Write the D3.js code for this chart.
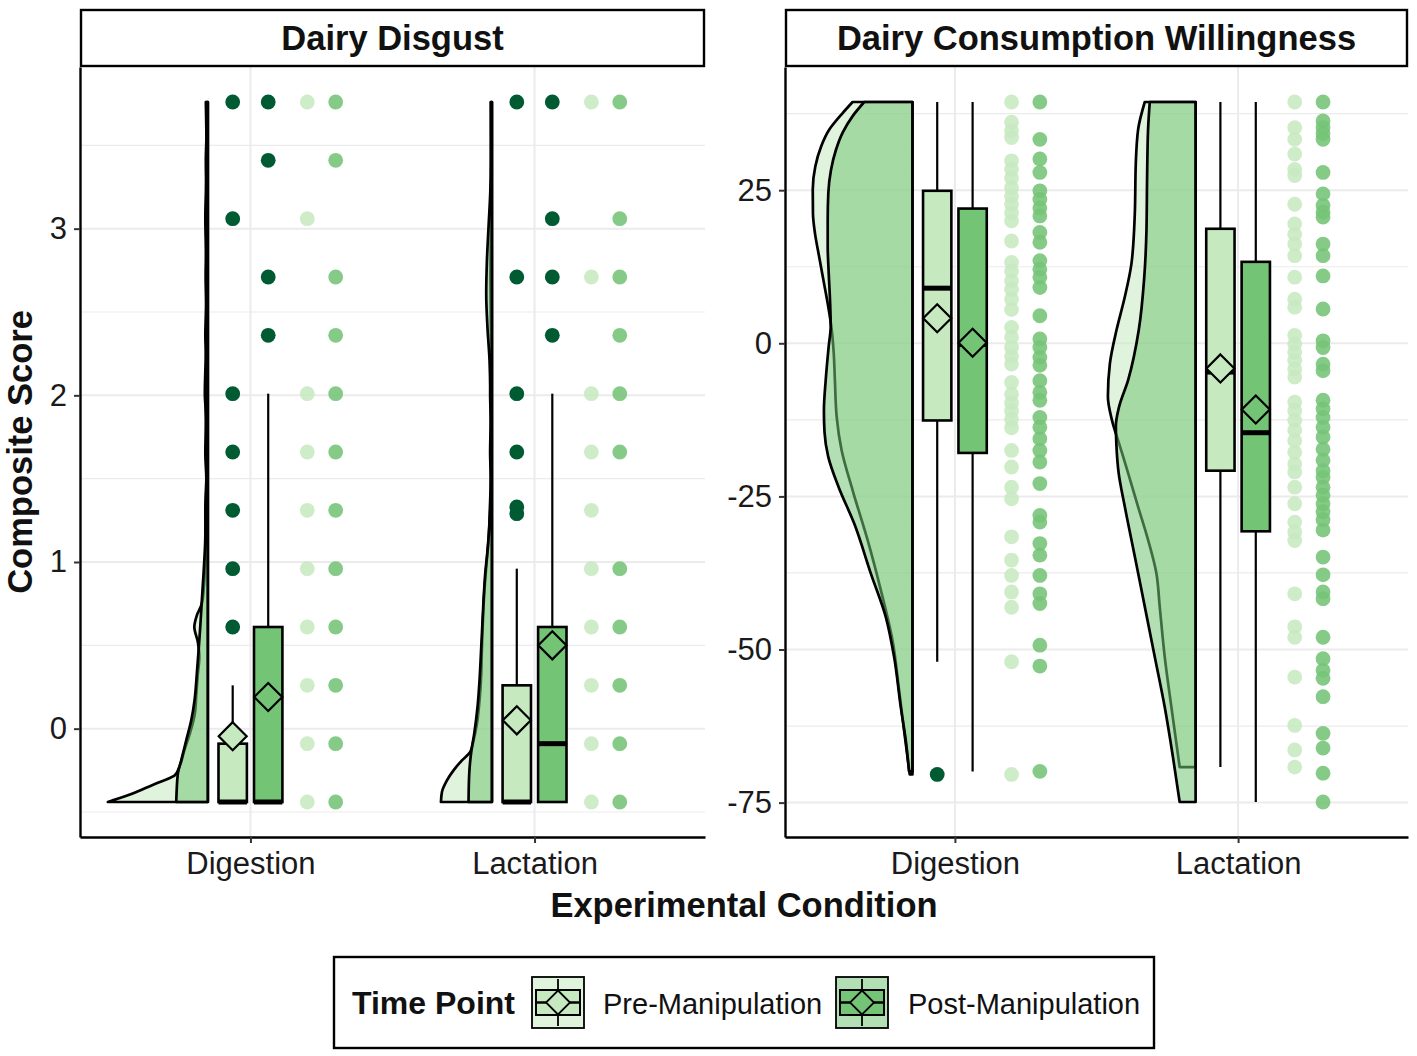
<!DOCTYPE html>
<html><head><meta charset="utf-8">
<script src="https://cdn.jsdelivr.net/npm/d3@7/dist/d3.min.js"></script>
<style>
body{margin:0;background:#fff}
svg{display:block}
text{font-family:"Liberation Sans",Arial,Helvetica,sans-serif}
</style>
</head><body>
<svg id="chart" width="1417" height="1056"></svg>
<script>
// ---------------- data ----------------
const categories = ["Digestion", "Lactation"];
const timePoints = ["Pre-Manipulation", "Post-Manipulation"];
const panelTitles = ["Dairy Disgust", "Dairy Consumption Willingness"];
const disgustTicks = [0, 1, 2, 3];
const willingTicks = [-75, -50, -25, 0, 25];
const axisTitleX = "Experimental Condition";
const axisTitleY = "Composite Score";
const legendTitle = "Time Point";

// box stats: [lower whisker, Q1, median, Q3, upper whisker, mean]
const disgustDigPreBox  = [-0.44, -0.44, -0.44, -0.09, 0.26, -0.045];
const disgustDigPostBox = [-0.44, -0.44, -0.44, 0.61, 2.01, 0.19];
const disgustLacPreBox  = [-0.44, -0.44, -0.44, 0.26, 0.96, 0.05];
const disgustLacPostBox = [-0.44, -0.44, -0.09, 0.61, 2.01, 0.50];
const willingDigPreBox  = [-52.0, -12.6, 9.0, 24.9, 39.4, 4.1];
const willingDigPostBox = [-69.9, -17.9, -0.2, 22.0, 39.4, 0.1];
const willingLacPreBox  = [-69.2, -20.8, -4.7, 18.7, 39.4, -4.1];
const willingLacPostBox = [-74.9, -30.7, -14.6, 13.3, 39.4, -10.8];

// boxplot outliers
const disgustDigPreOut  = [0.61, 0.96, 1.31, 1.66, 2.01, 3.06, 3.76];
const disgustDigPostOut = [2.36, 2.71, 3.41, 3.76];
const disgustLacPreOut  = [1.29, 1.33, 1.66, 2.01, 2.71, 3.76];
const disgustLacPostOut = [2.36, 2.71, 3.06, 3.76];
const willingDigPreOut  = [-70.4];
const willingDigPostOut = [];
const willingLacPreOut  = [];
const willingLacPostOut = [];

// raw observations (distinct values visible)
const disgustDigPrePts  = [-0.44, -0.09, 0.26, 0.61, 0.96, 1.31, 1.66, 2.01, 3.06, 3.76];
const disgustDigPostPts = [-0.44, -0.09, 0.26, 0.61, 0.96, 1.31, 1.66, 2.01, 2.36, 2.71, 3.41, 3.76];
const disgustLacPrePts  = [-0.44, -0.09, 0.26, 0.61, 0.96, 1.31, 1.66, 2.01, 2.71, 3.76];
const disgustLacPostPts = [-0.44, -0.09, 0.26, 0.61, 0.96, 1.66, 2.01, 2.36, 2.71, 3.06, 3.76];
const willingDigPrePts  = [39.4, 36.1, 34.7, 33.6, 29.8, 28.4, 27.0, 25.4, 24.0, 22.7, 21.3, 20.0, 16.7, 13.2, 11.8, 10.2, 8.8, 7.2, 5.5, 2.6, 1.0, -0.7, -2.1, -3.4, -6.4, -8.3, -9.7, -11.0, -12.4, -13.8, -17.5, -20.2, -23.5, -25.4, -31.6, -35.4, -37.9, -40.6, -43.1, -52.0, -70.4];
const willingDigPostPts = [39.4, 33.3, 30.1, 27.9, 24.9, 23.5, 22.1, 20.8, 18.1, 16.5, 13.5, 12.1, 10.8, 9.1, 4.5, 0.7, -0.7, -2.3, -3.6, -6.1, -8.0, -9.3, -12.1, -13.7, -15.6, -17.5, -19.4, -22.9, -28.1, -29.2, -32.7, -34.6, -37.9, -40.9, -42.5, -49.3, -52.7, -69.9];
const willingLacPrePts  = [39.4, 35.2, 33.3, 30.9, 28.4, 27.4, 22.7, 19.5, 17.8, 16.2, 14.3, 10.8, 7.2, 5.9, 1.3, -0.1, -1.5, -2.8, -4.2, -5.5, -9.6, -11.0, -12.6, -14.2, -15.9, -17.8, -19.7, -21.0, -23.5, -26.2, -29.2, -30.8, -32.2, -40.9, -46.3, -48.0, -54.5, -62.4, -66.4, -69.2];
const willingLacPostPts = [39.4, 36.3, 35.2, 34.2, 33.3, 27.9, 24.4, 22.5, 21.4, 20.6, 16.2, 14.3, 11.0, 5.6, 0.4, -0.7, -3.4, -4.5, -9.3, -10.7, -12.1, -13.7, -15.3, -17.3, -19.1, -20.8, -21.9, -23.5, -24.8, -26.2, -27.5, -28.8, -30.5, -34.9, -37.8, -40.6, -41.7, -48.0, -51.5, -53.4, -54.7, -57.7, -63.7, -66.1, -70.2, -74.9];

// half-violin density profiles: [value, relative density]
const disgustDigPreViolin = [[-0.44,1.00],[-0.40,0.80],[-0.36,0.64],[-0.32,0.48],[-0.28,0.33],[-0.23,0.285],[-0.13,0.235],[-0.03,0.18],[0.09,0.13],[0.21,0.115],[0.33,0.10],[0.43,0.085],[0.52,0.10],[0.61,0.135],[0.68,0.11],[0.75,0.06],[0.85,0.04],[0.95,0.03],[1.13,0.023],[1.31,0.025],[1.5,0.015],[1.66,0.025],[1.85,0.015],[2.01,0.03],[2.4,0.012],[2.7,0.012],[3.06,0.025],[3.4,0.012],[3.76,0.02]];
const disgustDigPostViolin = [[-0.44,0.316],[-0.27,0.30],[-0.19,0.266],[-0.07,0.216],[0.05,0.166],[0.17,0.133],[0.33,0.11],[0.49,0.09],[0.61,0.076],[0.77,0.06],[0.93,0.043],[1.13,0.026],[1.31,0.022],[1.5,0.015],[1.66,0.018],[2.01,0.022],[2.2,0.018],[2.36,0.025],[2.55,0.018],[2.71,0.022],[3.06,0.012],[3.41,0.02],[3.6,0.012],[3.76,0.015]];
const disgustLacPreViolin = [[-0.44,0.51],[-0.38,0.50],[-0.31,0.45],[-0.25,0.384],[-0.19,0.30],[-0.14,0.217],[-0.07,0.184],[0.03,0.15],[0.17,0.124],[0.33,0.107],[0.49,0.10],[0.65,0.09],[0.81,0.077],[0.97,0.057],[1.13,0.034],[1.33,0.02],[1.5,0.012],[1.66,0.018],[1.85,0.012],[2.01,0.018],[2.35,0.01],[2.71,0.015],[3.2,0.008],[3.76,0.012]];
const disgustLacPostViolin = [[-0.44,0.234],[-0.27,0.227],[-0.14,0.207],[-0.03,0.177],[0.13,0.144],[0.29,0.124],[0.45,0.11],[0.61,0.097],[0.77,0.084],[0.93,0.067],[1.07,0.044],[1.23,0.024],[1.43,0.01],[1.81,0.01],[2.21,0.024],[2.41,0.045],[2.61,0.057],[2.81,0.05],[3.01,0.034],[3.21,0.017],[3.41,0.01],[3.76,0.008]];
const willingDigPreViolin = [[-70.4,0.027],[-63.2,0.084],[-56.6,0.134],[-48.5,0.20],[-40.3,0.317],[-32.1,0.45],[-24.0,0.60],[-17.5,0.71],[-12.0,0.76],[-6.0,0.778],[-1.5,0.79],[2.5,0.812],[6.5,0.85],[10.5,0.895],[14.5,0.94],[18.0,0.978],[21.2,0.998],[25.1,1.0],[28.9,0.974],[32.1,0.917],[34.9,0.834],[37.6,0.70],[39.4,0.60]];
const willingDigPostViolin = [[-69.9,0.034],[-64.8,0.067],[-59.4,0.117],[-51.2,0.184],[-44.7,0.267],[-37.6,0.417],[-29.4,0.585],[-23.5,0.74],[-18.5,0.845],[-14.5,0.882],[-11.0,0.888],[-6.0,0.87],[-0.5,0.84],[2.8,0.82],[7.1,0.827],[11.5,0.84],[15.8,0.85],[20.2,0.85],[24.5,0.844],[28.3,0.817],[31.6,0.767],[34.4,0.70],[37.1,0.60],[39.4,0.484]];
const willingLacPreViolin = [[-69.2,0.16],[-59.4,0.243],[-51.2,0.31],[-43.0,0.36],[-37.6,0.393],[-32.1,0.477],[-26.7,0.577],[-21.2,0.677],[-16.5,0.765],[-12.5,0.84],[-8.7,0.88],[-3.3,0.86],[2.2,0.793],[7.6,0.71],[13.1,0.643],[21.2,0.61],[29.4,0.60],[34.9,0.577],[39.4,0.51]];
const willingLacPostViolin = [[-74.9,0.16],[-67.6,0.227],[-59.4,0.31],[-51.2,0.41],[-43.0,0.51],[-34.8,0.61],[-26.7,0.71],[-21.2,0.772],[-16.5,0.795],[-13.5,0.80],[-10.5,0.77],[-6.0,0.677],[2.2,0.57],[10.4,0.517],[18.5,0.493],[26.7,0.487],[34.9,0.477],[39.4,0.46]];

// ---------------- styling ----------------
const boxFill = ["#c7e9c0", "#74c476"];
const violinFill = ["#c7e9c0", "#74c476"];
const violinOpacity = 0.55;
const pointFill = ["#c7e9c0", "#74c476"];
const outlierFill = "#005a32";
const gridCol = "#ebebeb";

const panels = [
  { title: panelTitles[0], ticks: disgustTicks, xr: [80, 705], groups: [
    {cat:0, tp:0, box:disgustDigPreBox,  pts:disgustDigPrePts,  out:disgustDigPreOut,  vio:disgustDigPreViolin},
    {cat:0, tp:1, box:disgustDigPostBox, pts:disgustDigPostPts, out:disgustDigPostOut, vio:disgustDigPostViolin},
    {cat:1, tp:0, box:disgustLacPreBox,  pts:disgustLacPrePts,  out:disgustLacPreOut,  vio:disgustLacPreViolin},
    {cat:1, tp:1, box:disgustLacPostBox, pts:disgustLacPostPts, out:disgustLacPostOut, vio:disgustLacPostViolin}]},
  { title: panelTitles[1], ticks: willingTicks, xr: [785, 1408], groups: [
    {cat:0, tp:0, box:willingDigPreBox,  pts:willingDigPrePts,  out:willingDigPreOut,  vio:willingDigPreViolin},
    {cat:0, tp:1, box:willingDigPostBox, pts:willingDigPostPts, out:willingDigPostOut, vio:willingDigPostViolin},
    {cat:1, tp:0, box:willingLacPreBox,  pts:willingLacPrePts,  out:willingLacPreOut,  vio:willingLacPreViolin},
    {cat:1, tp:1, box:willingLacPostBox, pts:willingLacPostPts, out:willingLacPostOut, vio:willingLacPostViolin}]}
];

const svg = d3.select("#chart");
const panelTop = 67, panelBottom = 837, stripTop = 10;

const diamond = r => `M0,${-r}L${r},0L0,${r}L${-r},0Z`;

panels.forEach(P => {
  const allVals = P.groups.flatMap(g => g.pts.concat(g.out, [g.box[0], g.box[4]]));
  const [mn, mx] = d3.extent(allVals);
  const pad = (mx - mn) * 0.05;
  const y = d3.scaleLinear().domain([mn - pad, mx + pad]).range([panelBottom, panelTop]);
  const x = d3.scaleLinear().domain([-0.6, categories.length - 1 + 0.6]).range(P.xr);
  const u = x(1) - x(0);
  const g = svg.append("g");

  // grid
  const step = P.ticks[1] - P.ticks[0];
  const minors = [];
  for (let v = P.ticks[0] - step / 2; v <= y.domain()[1]; v += step) if (v >= y.domain()[0]) minors.push(v);
  g.selectAll(".minor").data(minors).join("line")
    .attr("x1", P.xr[0]).attr("x2", P.xr[1]).attr("y1", d => y(d)).attr("y2", d => y(d))
    .attr("stroke", gridCol).attr("stroke-width", 1.2);
  g.selectAll(".major").data(P.ticks).join("line")
    .attr("x1", P.xr[0]).attr("x2", P.xr[1]).attr("y1", d => y(d)).attr("y2", d => y(d))
    .attr("stroke", gridCol).attr("stroke-width", 2);
  g.selectAll(".vmajor").data(categories.map((c, i) => i)).join("line")
    .attr("x1", d => x(d)).attr("x2", d => x(d)).attr("y1", panelTop).attr("y2", panelBottom)
    .attr("stroke", gridCol).attr("stroke-width", 2);

  // violins
  P.groups.forEach(G => {
    const xb = x(G.cat) - 0.15 * u;
    const area = d3.area().curve(d3.curveMonotoneY)
      .y(d => y(d[0])).x0(xb).x1(d => xb - d[1] * 0.352 * u);
    g.append("path").datum(G.vio).attr("d", area)
      .attr("fill", violinFill[G.tp]).attr("fill-opacity", violinOpacity)
      .attr("stroke", "#000").attr("stroke-width", 2.7).attr("stroke-linejoin", "round");
  });

  // boxplots
  P.groups.forEach(G => {
    const [lo, q1, med, q3, hi, mean] = G.box;
    const bx = x(G.cat) + (G.tp === 0 ? -1 : 1) * 0.0625 * u;
    const bw = 0.1 * u;
    g.append("line").attr("x1", bx).attr("x2", bx).attr("y1", y(q3)).attr("y2", y(hi)).attr("stroke", "#000").attr("stroke-width", 2.2);
    g.append("line").attr("x1", bx).attr("x2", bx).attr("y1", y(q1)).attr("y2", y(lo)).attr("stroke", "#000").attr("stroke-width", 2.2);
    g.append("rect").attr("x", bx - bw / 2).attr("width", bw).attr("y", y(q3)).attr("height", y(q1) - y(q3))
      .attr("fill", boxFill[G.tp]).attr("stroke", "#000").attr("stroke-width", 2.6);
    g.append("line").attr("x1", bx - bw / 2).attr("x2", bx + bw / 2).attr("y1", y(med)).attr("y2", y(med))
      .attr("stroke", "#000").attr("stroke-width", 5);
    g.selectAll(null).data(G.out).join("circle")
      .attr("cx", bx).attr("cy", d => y(d)).attr("r", 7.4).attr("fill", outlierFill);
    g.append("path").attr("d", diamond(14)).attr("transform", `translate(${bx},${y(mean)})`)
      .attr("fill", boxFill[G.tp]).attr("stroke", "#000").attr("stroke-width", 2.2);
  });

  // raw points
  P.groups.forEach(G => {
    const px = x(G.cat) + (G.tp === 0 ? 0.2 : 0.3) * u;
    g.selectAll(null).data(G.pts).join("circle")
      .attr("cx", px).attr("cy", d => y(d)).attr("r", 7.4)
      .attr("fill", pointFill[G.tp]).attr("fill-opacity", G.tp === 0 ? 0.85 : 0.88);
  });

  // axes
  const ya = d3.axisLeft(y).tickValues(P.ticks).tickFormat(d => String(d))
    .tickSize(6).tickSizeOuter(0).tickPadding(7);
  const ay = svg.append("g").attr("transform", `translate(${P.xr[0]},0)`).call(ya);
  const xa = d3.axisBottom(x).tickValues(categories.map((c, i) => i)).tickFormat(i => categories[i])
    .tickSize(6).tickSizeOuter(0).tickPadding(9);
  const ax = svg.append("g").attr("transform", `translate(0,${panelBottom})`).call(xa);
  [ay, ax].forEach(a => {
    a.select(".domain").attr("stroke", "#000").attr("stroke-width", 2.4);
    a.selectAll(".tick line").attr("stroke", "#333").attr("stroke-width", 2);
    a.selectAll(".tick text").attr("fill", "#1a1a1a").style("font-size", "31px");
  });

  // strip
  svg.append("rect").attr("x", P.xr[0] + 1).attr("y", stripTop).attr("width", P.xr[1] - P.xr[0] - 2)
    .attr("height", panelTop - stripTop - 1).attr("fill", "#fff").attr("stroke", "#000").attr("stroke-width", 2.4);
  svg.append("text").attr("x", (P.xr[0] + P.xr[1]) / 2).attr("y", 50).attr("text-anchor", "middle")
    .style("font-size", "34.5px").style("font-weight", "bold").attr("fill", "#111").text(P.title);
});

// axis titles
svg.append("text").attr("x", 744).attr("y", 917).attr("text-anchor", "middle")
  .style("font-size", "34.5px").style("font-weight", "bold").attr("fill", "#111").text(axisTitleX);
svg.append("text").attr("transform", "translate(32,452) rotate(-90)").attr("text-anchor", "middle")
  .style("font-size", "34.5px").style("font-weight", "bold").attr("fill", "#111").text(axisTitleY);

// legend
const lg = svg.append("g");
lg.append("rect").attr("x", 334).attr("y", 957).attr("width", 820).attr("height", 91)
  .attr("fill", "#fff").attr("stroke", "#000").attr("stroke-width", 2.4);
lg.append("text").attr("x", 352).attr("y", 1014).style("font-size", "32px").style("font-weight", "bold")
  .attr("fill", "#111").text(legendTitle);
const keyX = [532, 836], labX = [603, 908];
timePoints.forEach((t, i) => {
  const kx = keyX[i], ky = 977, ks = 52;
  const k = lg.append("g").attr("transform", `translate(${kx},${ky})`);
  k.append("rect").attr("width", ks).attr("height", ks - 1).attr("fill", violinFill[i]).attr("fill-opacity", violinOpacity)
    .attr("stroke", "#000").attr("stroke-width", 1.8);
  k.append("line").attr("x1", ks / 2).attr("x2", ks / 2).attr("y1", 2).attr("y2", ks - 3).attr("stroke", "#000").attr("stroke-width", 1.8);
  k.append("rect").attr("x", 4).attr("y", 13).attr("width", ks - 8).attr("height", 25)
    .attr("fill", boxFill[i]).attr("stroke", "#000").attr("stroke-width", 2);
  k.append("line").attr("x1", 4).attr("x2", ks - 4).attr("y1", 25.5).attr("y2", 25.5).attr("stroke", "#000").attr("stroke-width", 2.5);
  k.append("path").attr("d", diamond(12)).attr("transform", `translate(${ks / 2},25.5)`)
    .attr("fill", boxFill[i]).attr("stroke", "#000").attr("stroke-width", 1.8);
  lg.append("text").attr("x", labX[i]).attr("y", 1014).style("font-size", "29px").attr("fill", "#111").text(t);
});
</script>
</body></html>
